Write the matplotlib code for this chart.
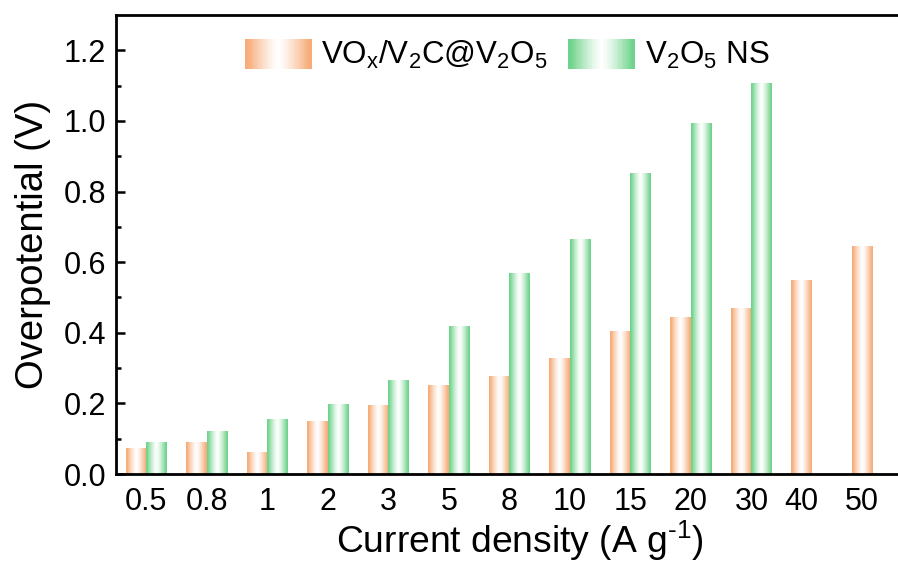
import numpy as np
import matplotlib
matplotlib.use('Agg')
import matplotlib.pyplot as plt
from matplotlib.patches import Rectangle
from matplotlib.legend_handler import HandlerBase
from matplotlib.colors import to_rgb

plt.rcParams['font.family'] = ['Liberation Sans', 'DejaVu Sans']
plt.rcParams['mathtext.default'] = 'regular'

# 数据
categories = ['0.5', '0.8', '1', '2', '3', '5', '8', '10', '15', '20', '30', '40', '50']
vox = [0.073, 0.090, 0.062, 0.150, 0.193, 0.252, 0.277, 0.328, 0.404, 0.443, 0.469, 0.548, 0.644]
v2o5 = [0.090, 0.121, 0.155, 0.198, 0.266, 0.418, 0.567, 0.665, 0.850, 0.994, 1.105, None, None]

orange = '#F7AC79'
green = '#6FD38C'
width = 0.34


def shade(t):
    # 两边有颜色，中间白色
    return np.clip(np.abs(2 * t - 1) ** 1.3 * 1.1, 0, 1)


def grad_rgb(color, n=64):
    t = np.linspace(0, 1, n)
    a = shade(t)[:, None]
    c = np.array(to_rgb(color))[None, :]
    return (1 - a) + a * c


class GradHandler(HandlerBase):
    def __init__(self, color):
        super().__init__()
        self.color = color

    def create_artists(self, legend, orig_handle, xdescent, ydescent,
                       width, height, fontsize, trans):
        n = 40
        cols = grad_rgb(self.color, n)
        arts = []
        for k in range(n):
            r = Rectangle((-xdescent + width * k / n, -ydescent), width / n * 1.05, height,
                          facecolor=cols[k], edgecolor='none', transform=trans)
            arts.append(r)
        return arts


fig = plt.figure(figsize=(8.98, 5.67), dpi=100)
ax = fig.add_axes([0.129, 0.164, 0.871, 0.8095])

x = np.arange(len(categories))
ticks = []
for i in x:
    has_green = v2o5[i] is not None
    xo = i - width / 2
    ax.bar(xo, vox[i], width, color='none', edgecolor='none')
    ax.imshow(grad_rgb(orange)[None, :, :], extent=(xo - width / 2, xo + width / 2, 0, vox[i]),
              aspect='auto', interpolation='bilinear', zorder=2)
    if has_green:
        xg = i + width / 2
        ax.bar(xg, v2o5[i], width, color='none', edgecolor='none')
        ax.imshow(grad_rgb(green)[None, :, :], extent=(xg - width / 2, xg + width / 2, 0, v2o5[i]),
                  aspect='auto', interpolation='bilinear', zorder=2)
        ticks.append(i)
    else:
        ticks.append(xo)

ax.set_xlim(-0.5, 12.42)
ax.set_ylim(0, 1.3)
ax.set_xticks(ticks)
ax.set_xticklabels(categories)
ax.set_yticks(np.arange(0, 1.21, 0.2))
ax.set_yticks(np.arange(0.1, 1.3, 0.2), minor=True)
ax.set_yticklabels(['%.1f' % v for v in np.arange(0, 1.21, 0.2)])

ax.tick_params(axis='x', length=0, labelsize=22, pad=9)
ax.tick_params(axis='y', which='major', direction='in', length=6.5, width=1.8, labelsize=22, pad=7)
ax.tick_params(axis='y', which='minor', direction='in', length=3.5, width=1.8)

for s in ['left', 'bottom', 'top']:
    ax.spines[s].set_linewidth(2)
ax.spines['right'].set_visible(False)

ax.set_xlabel('Current density (A g$^{\u2010 1}$)', fontsize=26.8, labelpad=2)
ax.xaxis.label.set_x(0.517)
ax.set_ylabel('Overpotential (V)', fontsize=27.5, labelpad=9)

h1 = Rectangle((0, 0), 1, 1)
h2 = Rectangle((0, 0), 1, 1)
ax.legend([h1, h2], ['VO$_x$/V$_2$C@V$_2$O$_5$', 'V$_2$O$_5$ NS'],
          handler_map={h1: GradHandler(orange), h2: GradHandler(green)},
          ncol=2, frameon=False, fontsize=22.5, loc='upper center',
          bbox_to_anchor=(0.5, 1.01), handlelength=2.15, handleheight=1.1,
          handletextpad=0.3, columnspacing=0.65)

fig.savefig('out.png', dpi=100)
